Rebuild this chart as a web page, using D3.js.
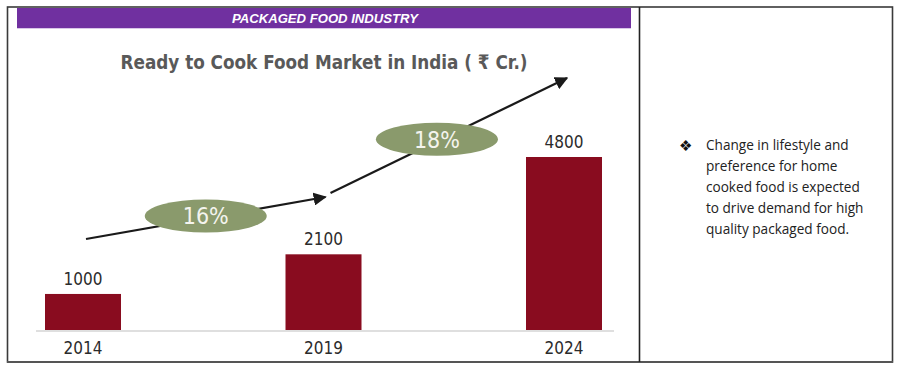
<!DOCTYPE html>
<html><head><meta charset="utf-8">
<script src="https://cdn.jsdelivr.net/npm/d3@7"></script>
<style>
html,body{margin:0;padding:0;background:#fff;}
svg{display:block;}
</style></head>
<body>
<script>
const years = ["2014", "2019", "2024"];
const values = [1000, 2100, 4800];
const cagrLabels = ["16%", "18%"];
const headerText = "PACKAGED FOOD INDUSTRY";
const chartTitle = "Ready to Cook Food Market in India ( \u20B9 Cr.)";
const noteLines = ["Change in lifestyle and", "preference for home", "cooked food is expected", "to drive demand for high", "quality packaged food."];

const W = 900, H = 368;
const svg = d3.select("body").append("svg").attr("width", W).attr("height", H);

const cond = "'DejaVu Sans Condensed','DejaVu Sans',sans-serif";

// table borders
svg.append("rect").attr("x", 7.5).attr("y", 7).attr("width", 885).attr("height", 355)
  .attr("fill", "none").attr("stroke", "#3a3a3a").attr("stroke-width", 1.6);
svg.append("line").attr("x1", 7).attr("x2", 893).attr("y1", 362).attr("y2", 362)
  .attr("stroke", "#555").attr("stroke-width", 2.2);
svg.append("line").attr("x1", 639.5).attr("x2", 639.5).attr("y1", 7).attr("y2", 362)
  .attr("stroke", "#222").attr("stroke-width", 1.6);

// header
svg.append("rect").attr("x", 17).attr("y", 8).attr("width", 614).attr("height", 20).attr("fill", "#7030A0");
svg.append("line").attr("x1", 17).attr("x2", 631).attr("y1", 28.5).attr("y2", 28.5).attr("stroke", "#d9c6e8").attr("stroke-width", 1);
svg.append("text").attr("x", 325).attr("y", 23).attr("text-anchor", "middle")
  .attr("font-family", "'Liberation Sans Narrow','Liberation Sans',Arial,sans-serif")
  .attr("font-size", 13.5).attr("font-weight", "bold").attr("font-style", "italic")
  .attr("fill", "#fff").attr("textLength", 186).attr("lengthAdjust", "spacingAndGlyphs")
  .text(headerText);

// title
svg.append("text").attr("x", 324).attr("y", 69).attr("text-anchor", "middle")
  .attr("font-family", cond).attr("font-size", 20).attr("font-weight", 600)
  .attr("fill", "#595959").attr("textLength", 407).attr("lengthAdjust", "spacingAndGlyphs")
  .text(chartTitle);

// scales
const x = d3.scaleBand().domain(years).range([45, 602]).paddingInner(0.684).paddingOuter(0);
const y = d3.scaleLinear().domain([0, 4800]).range([330, 157]);

// axis baseline
svg.append("line").attr("x1", 36).attr("x2", 614).attr("y1", 331).attr("y2", 331)
  .attr("stroke", "#d4d4d4").attr("stroke-width", 1.5);

// bars
svg.selectAll("rect.bar").data(values).join("rect").attr("class", "bar")
  .attr("x", (d, i) => x(years[i])).attr("width", x.bandwidth())
  .attr("y", d => y(d)).attr("height", d => y(0) - y(d))
  .attr("fill", "#890C1F");

// value labels
svg.selectAll("text.val").data(values).join("text").attr("class", "val")
  .attr("x", (d, i) => x(years[i]) + x.bandwidth() / 2).attr("y", d => y(d) - 9)
  .attr("text-anchor", "middle").attr("font-family", cond).attr("font-size", 17)
  .attr("fill", "#2b2b2b").text(d => d);

// year labels
const xAxis = d3.axisBottom(x).tickSize(0).tickPadding(0);
const gx = svg.append("g").attr("transform", "translate(0,342)").call(xAxis);
gx.select(".domain").remove();
gx.selectAll("text").attr("font-family", cond).attr("font-size", 17).attr("fill", "#2b2b2b").attr("dy", "0.71em");

// growth arrows
svg.append("defs").append("marker").attr("id", "ah").attr("viewBox", "0 0 10 10")
  .attr("refX", 9).attr("refY", 5).attr("markerWidth", 6).attr("markerHeight", 6)
  .attr("markerUnits", "strokeWidth").attr("orient", "auto")
  .append("path").attr("d", "M0,0 L10,5 L0,10 z").attr("fill", "#1a1a1a");

const cx = i => x(years[i]) + x.bandwidth() / 2;
const arrows = [
  {x1: cx(0) + 3, y1: 239, x2: cx(1) + 2, y2: 197},
  {x1: cx(1) + 7, y1: 193, x2: cx(2) + 3, y2: 78}
];
svg.selectAll("line.arr").data(arrows).join("line").attr("class", "arr")
  .attr("x1", d => d.x1).attr("y1", d => d.y1).attr("x2", d => d.x2).attr("y2", d => d.y2)
  .attr("stroke", "#1a1a1a").attr("stroke-width", 2.2).attr("marker-end", "url(#ah)");

const ellT = [0.5, 0.45];
const eg = svg.selectAll("g.cagr").data(arrows).join("g").attr("class", "cagr")
  .attr("transform", (d, i) => {
    const t = ellT[i];
    return `translate(${d.x1 + (d.x2 - d.x1) * t},${d.y1 + (d.y2 - d.y1) * t - 2})`;
  });
eg.append("ellipse").attr("rx", 61).attr("ry", 16.5).attr("fill", "#8A9A6C");
eg.append("text").attr("text-anchor", "middle").attr("dy", "0.36em")
  .attr("font-family", cond).attr("font-size", 23).attr("fill", "#f4f4ee")
  .text((d, i) => cagrLabels[i]);

// note
svg.append("text").attr("x", 679).attr("y", 151).attr("font-family", "'DejaVu Sans',sans-serif")
  .attr("font-size", 15).attr("fill", "#111").text("\u2756");
svg.selectAll("text.note").data(noteLines).join("text").attr("class", "note")
  .attr("x", 706).attr("y", (d, i) => 150 + i * 21)
  .attr("font-family", "'Open Sans','Noto Sans',sans-serif").attr("font-size", 13.6)
  .attr("fill", "#222").text(d => d);
</script>
</body></html>
